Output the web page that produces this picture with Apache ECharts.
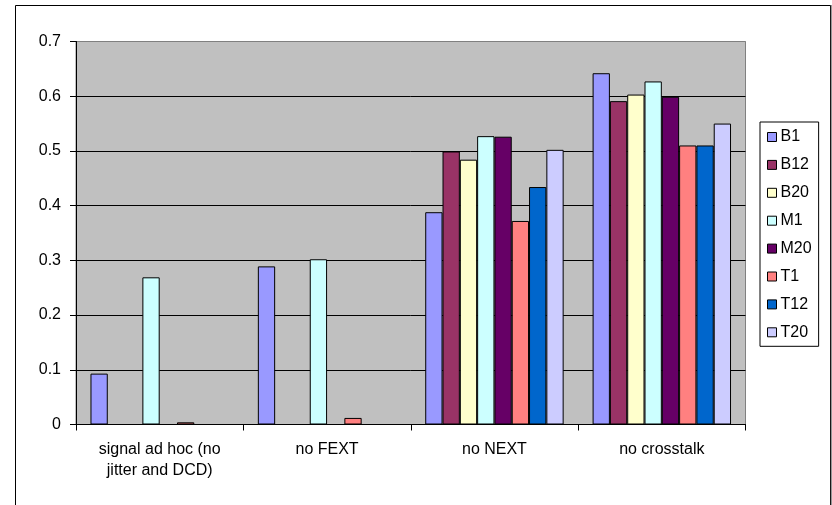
<!DOCTYPE html>
<html>
<head>
<meta charset="utf-8">
<script src="https://cdn.jsdelivr.net/npm/echarts@6/dist/echarts.min.js"></script>
<style>
  html, body { margin: 0; padding: 0; background: #fff; }
  #chart { width: 832px; height: 505px; }
</style>
</head>
<body>
<div id="chart"></div>
<script>
// Test scenarios along the x axis
const categories = ['signal ad hoc (no\njitter and DCD)', 'no FEXT', 'no NEXT', 'no crosstalk'];

// One series per measurement position (null = no bar)
const seriesNames = ['B1', 'B12', 'B20', 'M1', 'M20', 'T1', 'T12', 'T20'];
const B1  = [0.093, 0.289, 0.388, 0.642];
const B12 = [null,  null,  0.499, 0.591];
const B20 = [null,  null,  0.484, 0.603];
const M1  = [0.269, 0.302, 0.527, 0.627];
const M20 = [null,  null,  0.526, 0.599];
const T1  = [0.004, 0.012, 0.372, 0.510];
const T12 = [null,  null,  0.434, 0.510];
const T20 = [null,  null,  0.502, 0.550];
const seriesValues = [B1, B12, B20, M1, M20, T1, T12, T20];

const seriesColors = ['#9999FF', '#993366', '#FFFFCC', '#CCFFFF', '#660066', '#FF8080', '#0066CC', '#CCCCFF'];

const FONT = '"Liberation Sans", Arial, sans-serif';

const chart = echarts.init(document.getElementById('chart'), null, { renderer: 'canvas' });

chart.setOption({
  backgroundColor: '#ffffff',
  animation: false,
  textStyle: { fontFamily: FONT },
  grid: {
    left: 76, top: 41.5, right: 86.5, bottom: 80.5,
    show: true,
    backgroundColor: '#C0C0C0',
    borderColor: '#808080',
    borderWidth: 1
  },
  legend: {
    orient: 'vertical',
    left: 760, top: 122,
    padding: [7, 7, 6, 7],
    itemGap: 11.9,
    itemWidth: 9, itemHeight: 9,
    icon: 'rect',
    borderColor: '#000', borderWidth: 1,
    backgroundColor: '#fff',
    itemStyle: { borderColor: '#000', borderWidth: 1 },
    textStyle: { fontFamily: FONT, fontSize: 16, color: '#000', lineHeight: 16, padding: [0, 0, 0, -1] },
    data: seriesNames
  },
  xAxis: {
    type: 'category',
    data: categories,
    axisLine: { lineStyle: { color: '#000', width: 1 } },
    axisTick: { show: true, length: 6, lineStyle: { color: '#000' } },
    axisLabel: {
      fontFamily: FONT, fontSize: 16, color: '#000', lineHeight: 21, margin: 15,
      interval: 0
    },
    splitLine: { show: false }
  },
  yAxis: {
    type: 'value',
    min: 0, max: 0.7, interval: 0.1,
    axisLine: { show: true, lineStyle: { color: '#000', width: 1 } },
    axisTick: { show: true, length: 6, lineStyle: { color: '#000' } },
    axisLabel: {
      fontFamily: FONT, fontSize: 16, color: '#000', margin: 15,
      formatter: v => (Math.round(v * 10) / 10).toString()
    },
    splitLine: {
      show: true,
      lineStyle: { color: ['#000', '#000', '#000', '#000', '#000', '#000', '#000', '#808080'], width: 1 }
    }
  },
  series: seriesNames.map((name, i) => ({
    name,
    type: 'bar',
    data: seriesValues[i],
    barGap: '0%',
    barCategoryGap: '17.3%',
    itemStyle: { color: seriesColors[i], borderColor: '#000', borderWidth: 1 }
  })),
  graphic: [
    {
      type: 'rect',
      shape: { x: 15.5, y: 5.5, width: 815, height: 520 },
      style: { fill: null, stroke: '#000', lineWidth: 1 },
      z: 100
    },
    {
      type: 'line',
      shape: { x1: 831, y1: 5, x2: 831, y2: 505 },
      style: { stroke: '#333', lineWidth: 1 },
      z: 100
    }
  ]
});
</script>
</body>
</html>
